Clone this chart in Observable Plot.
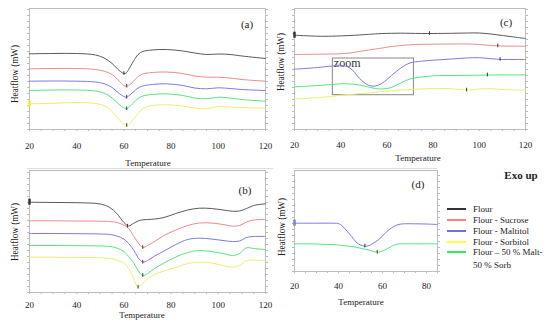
<!DOCTYPE html>
<html><head><meta charset="utf-8">
<script src="https://cdn.jsdelivr.net/npm/d3@7"></script>
<script src="https://cdn.jsdelivr.net/npm/@observablehq/plot@0.6"></script>
<style>
body{margin:0;background:#fff;}
#root{position:relative;width:550px;height:329px;overflow:hidden;font-family:"Liberation Serif",serif;color:#222;}
.txt{position:absolute;white-space:nowrap;line-height:1;font-family:"Liberation Serif",serif;}
svg{position:absolute;}
</style></head><body><div id="root"></div>
<script>
// ---------- series ----------
const seriesNames = ["Flour", "Flour - Sucrose", "Flour - Maltitol", "Flour - Sorbitol", "Flour – 50 % Malt-50 % Sorb"];
const seriesColors = ["#5a5a5a", "#f08a8a", "#7b7be6", "#eeee70", "#52e680"];

// ---------- panel (a) ----------
const aTemp     = [20, 30, 40, 48, 52, 55, 58, 60, 61, 62, 64, 66, 68, 72, 78, 85, 90, 95, 100, 105, 110, 120];
const aFlour    = [75.7, 76, 76, 74.5, 71, 66, 59, 56, 56.5, 60, 68, 75, 78, 79.5, 80, 78.5, 76.5, 75, 75.5, 75, 73.5, 71];
const aSucrose  = [60.7, 61, 61, 60, 58, 55, 48.5, 44, 43.3, 44, 48, 53, 55.5, 57, 57.5, 56, 53.5, 52.3, 52.3, 51.5, 50, 48.3];
const aMaltitol = [48.3, 48.5, 48.3, 47.5, 45.5, 42, 36, 33, 32.3, 33.5, 37.5, 41.5, 43.5, 45, 45.7, 44, 41.5, 40.7, 41.7, 41, 40, 39];
const aSorbitol = [25.7, 26.2, 27, 26, 23.5, 18, 10, 5, 4, 5, 10, 16, 21, 24, 24.7, 23.5, 21.5, 20.7, 23, 22.5, 22, 21.3];
const aMix      = [39, 39.5, 39.5, 38.5, 36, 31.5, 25, 21.5, 20.7, 22, 26.5, 31, 33.5, 35, 35.7, 34, 31.5, 30.7, 32.3, 31.5, 30, 28.3];
const aPeakT    = [60, 61.2, 61.2, 61.2, 61.2];
const aPeakV    = [56, 43.3, 32.3, 20.7, 4];

// ---------- panel (b) ----------
const bTemp     = [20, 30, 40, 50, 54, 57, 60, 62, 64, 66, 68, 70, 73, 77, 82, 87, 92, 97, 102, 106, 109, 112, 115, 120];
const bFlour    = [90.3, 90, 89.8, 88.5, 85, 79, 70, 66.5, 69, 71.5, 72.7, 73, 73.5, 75, 79, 82.5, 84.3, 84, 82.5, 81.3, 81.5, 84, 87, 88.7];
const bSucrose  = [71.7, 71.7, 71.5, 71.3, 71, 70, 67.5, 64, 57, 50, 45, 47, 51, 57, 62.5, 67, 69.5, 69.5, 68, 66.3, 67, 70.5, 72.5, 73];
const bMaltitol = [59, 59, 58.8, 58.5, 58, 56.5, 53.5, 49, 43, 35, 30.3, 32, 36.5, 41.5, 48, 53, 54.3, 53.5, 52, 51, 51.5, 55, 56, 56];
const bSorbitol = [35.3, 35.3, 35, 34.8, 34, 32.5, 29.5, 24, 15, 5.3, 9, 13.5, 18, 21.5, 25, 29, 30.3, 29.5, 27, 25.3, 27, 32, 32.3, 32];
const bMix      = [47, 47, 46.8, 46.5, 46, 44.5, 41, 36, 30, 22, 17, 19, 24, 29.5, 35.5, 40, 42, 41, 39, 37, 39, 44.7, 44, 43];
const bPeakT    = [61.5, 68, 68, 66, 68];
const bPeakV    = [66.3, 45, 30.3, 5.3, 17];

// ---------- panel (c) ----------
const cTemp     = [20, 30, 36, 40, 44, 48, 51, 53, 55, 58, 62, 66, 70, 75, 80, 88, 95, 100, 105, 110, 115, 120];
const cFlour    = [94.3, 93.3, 93.3, 93.6, 94, 94.5, 95, 95.3, 95.6, 96, 96.2, 96.3, 96.2, 96, 96, 96.2, 96.5, 96.5, 95.5, 94, 92.5, 91];
const cSucrose  = [75, 75.3, 75.5, 75.7, 76.5, 78, 79, 79.8, 80.5, 81.5, 83, 84, 84.7, 85.2, 85.3, 85.5, 85.5, 85, 84, 83.5, 83.3, 83.3];
const cMaltitol = [60.3, 62, 63.5, 64.2, 61.5, 51.5, 45.5, 43.6, 43.5, 46.5, 54, 61.5, 66.5, 68.3, 69.3, 70.5, 71.6, 71.8, 70.8, 70, 70, 70];
const cSorbitol = [30.3, 32, 33, 34.3, 35, 35.8, 36.3, 36.7, 37.2, 38, 38.8, 39.5, 40, 40.5, 41, 40.7, 39.4, 40.5, 40.8, 40, 39.6, 39.3];
const cMix      = [42.6, 44, 45, 45.7, 45.5, 44.5, 43, 42, 41, 40.5, 42, 46.5, 50.5, 52.5, 53.7, 54, 54.2, 54.3, 54.5, 54.6, 54.6, 54.6];
const cPeakT    = [78.4, 108, 109, 94.5, 103.5];
const cPeakV    = [96, 83.6, 70, 39.4, 54.5];
const cZoomT    = [36.6, 71.7];
const cZoomV    = [34.3, 71];

// ---------- panel (d) ----------
const dTemp     = [20, 30, 38, 40, 42, 44, 46, 48, 50, 52, 54, 56, 58, 60, 62, 64, 66, 68, 70, 75, 80, 85];
const dMaltitol = [48.3, 48.3, 48.3, 48, 45, 40, 35, 29.5, 26.5, 25.3, 26, 28.5, 31.5, 35.5, 40, 43.5, 46, 47.3, 47.7, 47.7, 47.5, 47];
const dMix      = [27.7, 27.5, 26.8, 26.5, 26, 25.5, 25, 24.3, 23.3, 22.3, 21.3, 20, 19.3, 20.5, 22.5, 25, 27, 27.7, 27.7, 27.7, 27.7, 27.7];
const dPeakT    = [52, 57.6];
const dPeakV    = [25.3, 19.3];

// ---------- helpers ----------
const root = document.getElementById("root");
function tidy(temps, list) {
  const rows = [];
  list.forEach(([name, vals]) => vals.forEach((v, i) => rows.push({series: name, t: temps[i], v})));
  return rows;
}
function peaks(names, ts, vs) { return names.map((n, i) => ({series: n, t: ts[i], v: vs[i]})); }

function makePanel(cfg) {
  const [x0, x1, y0, y1] = cfg.frame;
  const ml = 6, mr = 6, mt = 3, mb = 26;
  const w = x1 - x0 + ml + mr, h = y1 - y0 + mt + mb;
  const yMax = cfg.yMax;
  const chart = Plot.plot({
    width: w, height: h, marginLeft: ml, marginRight: mr, marginTop: mt, marginBottom: mb,
    style: {background: "none", fontFamily: "'Liberation Serif', serif", fontSize: "9px", color: "#222", overflow: "visible"},
    x: {domain: cfg.xDomain},
    y: {domain: [0, yMax]},
    color: {domain: seriesNames, range: seriesColors},
    marks: [
      Plot.axisY({ticks: d3.range(0, yMax, 6), anchor: "left", tickSize: 2, tickFormat: () => "", label: null, stroke: "#bbb"}),
      Plot.axisY({ticks: d3.range(0, yMax, 6), anchor: "right", tickSize: 2, tickFormat: () => "", label: null, stroke: "#bbb"}),
      Plot.axisX({ticks: d3.range(cfg.xDomain[0], cfg.xDomain[1] + 0.1, 5), tickSize: 2, tickFormat: () => "", label: null, stroke: "#bbb"}),
      Plot.axisX({ticks: cfg.labels, tickSize: 0, tickPadding: cfg.pad, label: null}),
      Plot.frame({stroke: "#bdbdbd"}),
      ...(cfg.extra || []),
      Plot.line(cfg.rows, {x: "t", y: "v", z: "series", stroke: "series", curve: "catmull-rom", strokeWidth: 1}),
      Plot.ruleX(cfg.peaks, {x: "t", y1: d => d.v - 1.8, y2: d => d.v + 1.8, stroke: "#333", strokeWidth: 1}),
      Plot.ruleX(cfg.start, {x: "t", y1: d => d.v - 3, y2: d => d.v + 3, stroke: cfg.startColor, strokeWidth: 2.5})
    ]
  });
  chart.style.left = (x0 - ml) + "px";
  chart.style.top = (y0 - mt) + "px";
  root.appendChild(chart);
}

function addText(str, x, y, size, extra = "") {
  const d = document.createElement("div");
  d.className = "txt";
  d.textContent = str;
  d.style.left = x + "px";
  d.style.top = y + "px";
  d.style.fontSize = size + "px";
  d.style.transform = "translate(-50%,-50%) " + extra;
  root.appendChild(d);
  return d;
}

const all5 = seriesNames;

// (a)
makePanel({
  frame: [29, 265, 8, 129], xDomain: [20, 120], yMax: 121, labels: [20, 40, 60, 80, 100, 120], pad: 13,
  rows: tidy(aTemp, [[all5[0], aFlour], [all5[1], aSucrose], [all5[2], aMaltitol], [all5[3], aSorbitol], [all5[4], aMix]]),
  peaks: peaks(all5, aPeakT, aPeakV),
  start: [{t: aTemp[0], v: aSorbitol[0]}], startColor: "#f5f020"
});
// (b)
makePanel({
  frame: [29, 265, 170, 292], xDomain: [20, 120], yMax: 122, labels: [20, 40, 60, 80, 100, 120], pad: 9.5,
  rows: tidy(bTemp, [[all5[0], bFlour], [all5[1], bSucrose], [all5[2], bMaltitol], [all5[3], bSorbitol], [all5[4], bMix]]),
  peaks: peaks(all5, bPeakT, bPeakV),
  start: [{t: bTemp[0], v: bFlour[0]}], startColor: "#333"
});
// (c)
makePanel({
  frame: [294, 525, 8, 129], xDomain: [20, 120], yMax: 121, labels: [20, 40, 60, 80, 100, 120], pad: 12,
  rows: tidy(cTemp, [[all5[0], cFlour], [all5[1], cSucrose], [all5[2], cMaltitol], [all5[3], cSorbitol], [all5[4], cMix]]),
  peaks: peaks(all5, cPeakT, cPeakV),
  start: [{t: cTemp[0], v: cFlour[0]}], startColor: "#333",
  extra: [
    Plot.rect([{}], {x1: () => cZoomT[0], x2: () => cZoomT[1], y1: () => cZoomV[0], y2: () => cZoomV[1], fill: "none", stroke: "#888", strokeWidth: 1}),
    Plot.text(["zoom"], {x: () => cZoomT[0], y: () => cZoomV[1], text: d => d, textAnchor: "start", dx: 1, dy: 5, fontSize: 12, fill: "#333"})
  ]
});
// (d)
makePanel({
  frame: [294, 437, 170, 271], xDomain: [20, 85], yMax: 101, labels: [20, 40, 60, 80], pad: 11.5,
  rows: tidy(dTemp, [[all5[2], dMaltitol], [all5[4], dMix]]),
  peaks: peaks([all5[2], all5[4]], dPeakT, dPeakV),
  start: [{t: dTemp[0], v: dMaltitol[0]}], startColor: "#7b7be6"
});

// axis titles
const yTitle = "Heatflow (mW)";
addText(yTitle, 14, 74, 11, "rotate(-90deg) scaleX(0.83)");
addText(yTitle, 14, 232, 11, "rotate(-90deg) scaleX(0.83)");
addText(yTitle, 280, 62, 11, "rotate(-90deg) scaleX(0.83)");
addText(yTitle, 281, 227, 11, "rotate(-90deg) scaleX(0.83)");
addText("Temperature", 148, 163, 9);
addText("Temperature", 142, 315, 9);
addText("Temperature", 418, 157.5, 9);
addText("Temperature", 361, 302, 9);
addText("(a)", 247, 24, 11);
addText("(b)", 245, 190, 11);
addText("(c)", 506, 22, 11);
addText("(d)", 418, 184, 11);
const exo = addText("Exo up", 521, 175, 11);
exo.style.fontWeight = "bold";

// faint separators
[[27, 273], [293, 437]].forEach(([a, b]) => {
  const l = document.createElement("div");
  l.style.cssText = `position:absolute;left:${a}px;top:168px;width:${b - a}px;height:1px;background:#ddd;`;
  root.appendChild(l);
});

// legend
const legendLabels = ["Flour", "Flour - Sucrose", "Flour - Maltitol", "Flour - Sorbitol", "Flour – 50 % Malt-"];
const legendSwatch = ["#333333", "#ff8080", "#6e6ee8", "#ffff40", "#30ee60"];
const legendRows = [209, 220, 231, 242, 252];
legendLabels.forEach((lab, i) => {
  const s = document.createElement("div");
  s.style.cssText = `position:absolute;left:447px;top:${legendRows[i] - 1}px;width:19px;height:2px;background:${legendSwatch[i]};`;
  root.appendChild(s);
  const t = addText(lab, 473, legendRows[i], 9);
  t.style.transform = "translate(0,-50%)";
});
const t2 = addText("50 % Sorb", 473, 265, 9);
t2.style.transform = "translate(0,-50%)";
</script></body></html>
